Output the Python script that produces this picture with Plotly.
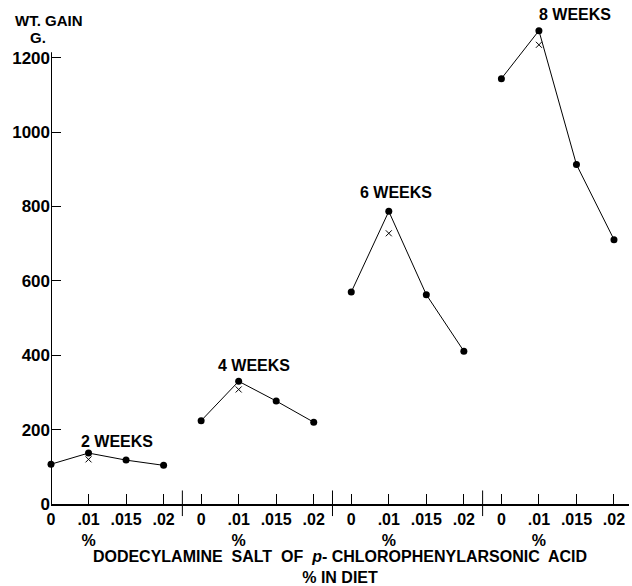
import plotly.graph_objects as go

doses = ["0", ".01", ".015", ".02"]
weeks = ["2 WEEKS", "4 WEEKS", "6 WEEKS", "8 WEEKS"]
gain_dots = [
    [107, 137, 118, 104],
    [224, 330, 277, 220],
    [570, 787, 563, 411],
    [1144, 1273, 913, 711],
]
gain_cross = [120, 308, 728, 1235]  # second value at .01 %
y_ticks = [0, 200, 400, 600, 800, 1000, 1200]

FONT = "Liberation Sans"
n = len(doses)
fig = go.Figure()

tickvals, ticktext = [], []
for g, vals in enumerate(gain_dots):
    xs = [g * n + i for i in range(n)]
    fig.add_trace(go.Scatter(
        x=xs, y=vals, mode="lines+markers",
        line=dict(color="black", width=1),
        marker=dict(symbol="circle", size=7, color="black"),
        showlegend=False, cliponaxis=False))
    fig.add_trace(go.Scatter(
        x=[g * n + 1], y=[gain_cross[g]], mode="markers",
        marker=dict(symbol="x-thin", size=6, color="black",
                    line=dict(width=1, color="black")),
        showlegend=False, cliponaxis=False))
    for i, d in enumerate(doses):
        tickvals.append(g * n + i)
        ticktext.append(d + "<br>%" if d == ".01" else d)

# group separators
for g in range(1, len(gain_dots)):
    fig.add_shape(type="line", xref="x", yref="paper",
                  x0=g * n - 0.5, x1=g * n - 0.5, y0=-0.025, y1=0.028,
                  line=dict(color="black", width=1))

# y axis line stops just above the top tick
fig.add_shape(type="line", xref="x", yref="y", x0=0, x1=0,
              y0=0, y1=y_ticks[-1] + 15, line=dict(color="black", width=2))

# week labels (placed relative to each group's peak point)
label_offsets = [(0.76, 12), (0.4, 16), (0.19, 19), (0.96, 16)]
for g, w in enumerate(weeks):
    dx, dy = label_offsets[g]
    fig.add_annotation(x=g * n + 1 + dx, y=gain_dots[g][1], yshift=dy,
                       text="<b>" + w + "</b>",
                       showarrow=False, xref="x", yref="y",
                       font=dict(family=FONT, size=16, color="black"))

fig.add_annotation(text="<b>WT. GAIN</b>", xref="paper", yref="paper",
                   x=-0.003, y=(506 - 20) / 485, xanchor="center", yanchor="middle",
                   showarrow=False, font=dict(family=FONT, size=15, color="black"))
fig.add_annotation(text="<b>G.</b>", xref="paper", yref="paper",
                   x=-0.022, y=(506 - 38) / 485, xanchor="center", yanchor="middle",
                   showarrow=False, font=dict(family=FONT, size=15, color="black"))

fig.update_xaxes(range=[0, 15.4], tickvals=tickvals,
                 ticktext=["<b>" + t + "</b>" for t in ticktext],
                 ticks="inside", ticklen=10, tickwidth=1, tickcolor="black",
                 showline=True, linecolor="black", linewidth=2,
                 showgrid=False, zeroline=False,
                 tickfont=dict(family=FONT, size=16, color="black"),
                 title=dict(text="<b>DODECYLAMINE  SALT  OF  <i>p</i>- CHLOROPHENYLARSONIC  ACID<br>% IN DIET</b>",
                            font=dict(family=FONT, size=16, color="black"), standoff=2))
fig.update_yaxes(range=[0, 1299], tickvals=y_ticks,
                 ticktext=["<b>%d</b>" % v for v in y_ticks],
                 ticks="inside", ticklen=10, tickwidth=1, tickcolor="black",
                 showline=False, showgrid=False, zeroline=False,
                 tickfont=dict(family=FONT, size=17, color="black"))

fig.update_layout(width=632, height=586,
                  margin=dict(l=51, r=3, t=21, b=80),
                  plot_bgcolor="white", paper_bgcolor="white")
fig.write_html("out.html")
